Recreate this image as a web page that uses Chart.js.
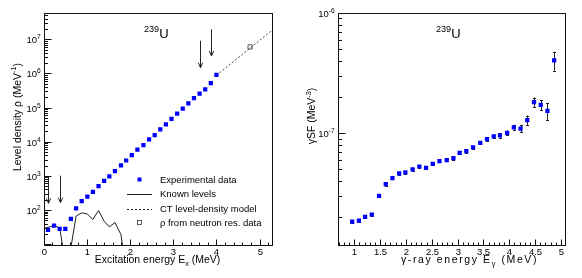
<!DOCTYPE html>
<html lang="en">
<head>
<meta charset="UTF-8" />
<title>239U level density and gamma strength function</title>
<script src="https://cdn.jsdelivr.net/npm/chart.js"></script>
<style>
  html, body { margin: 0; padding: 0; background: #fff; }
  .wrap { position: relative; width: 582px; height: 278px; overflow: hidden; }
  .panel { position: absolute; top: 0; width: 291px; height: 278px; }
  #left { left: 0; }
  #right { left: 291px; }
</style>
</head>
<body>
<div class="wrap">
  <div class="panel" id="left"><canvas id="rhoChart" width="291" height="278"></canvas></div>
  <div class="panel" id="right"><canvas id="gsfChart" width="291" height="278"></canvas></div>
</div>

<script>
// ------------------------------------------
// Data
// ------------------------------------------
// left panel: level density
const rhoE   = [0.10, 0.24, 0.37, 0.50, 0.63, 0.75, 0.88, 1.01, 1.14, 1.27, 1.40, 1.52, 1.65, 1.79, 1.91, 2.04,
                2.17, 2.31, 2.44, 2.57, 2.70, 2.83, 2.96, 3.09, 3.22, 3.35, 3.48, 3.61, 3.74, 3.87, 4.00];
const rhoExp = [26, 35, 28, 28, 55, 112, 182, 245, 340, 500, 710, 965, 1380, 2040, 2820, 4070,
                5900, 7950, 11700, 15500, 22900, 32400, 46800, 66100, 93300, 132000, 190000, 257000, 339000, 525000, 912000];

const knownE   = [0.02, 0.24, 0.37, 0.50, 0.63, 0.75, 0.88, 1.01, 1.14, 1.27, 1.40, 1.52, 1.65, 1.79, 1.91];
const knownRho = [29, 35, 30, 3, 8, 66, 83, 76, 53, 97, 47, 32, 43, 19, 1.5];

const ctE   = [4.00, 5.28];
const ctRho = [8.8e5, 1.8e7];

const neutronE   = [4.78];
const neutronRho = [6.0e6];

// fit-limit arrows (energy, upper end, lower end)
const arrowE    = [0.10, 0.37, 3.61, 3.87];
const arrowFrom = [950, 1010, 9.1e6, 1.96e7];
const arrowTo   = [157, 164, 1.47e6, 3.24e6];

// right panel: gamma strength function
const gsfE   = [0.96, 1.09, 1.21, 1.34, 1.48, 1.61, 1.74, 1.87, 1.99, 2.13, 2.26, 2.39, 2.52, 2.65, 2.79, 2.92,
                3.04, 3.17, 3.30, 3.44, 3.57, 3.70, 3.82, 3.96, 4.09, 4.22, 4.35, 4.48, 4.61, 4.74, 4.87];
const gsfVal = [1.83e-8, 1.87e-8, 2.01e-8, 2.09e-8, 3.00e-8, 3.76e-8, 4.22e-8, 4.61e-8, 4.70e-8, 4.98e-8, 5.27e-8,
                5.14e-8, 5.55e-8, 5.85e-8, 5.96e-8, 6.19e-8, 6.85e-8, 7.08e-8, 7.59e-8, 8.30e-8, 8.91e-8, 9.37e-8,
                9.55e-8, 1.006e-7, 1.114e-7, 1.092e-7, 1.28e-7, 1.81e-7, 1.72e-7, 1.53e-7, 4.03e-7];
const gsfErr = [0.05e-8, 0.05e-8, 0.05e-8, 0.06e-8, 0.08e-8, 0.1e-8, 0.1e-8, 0.1e-8, 0.12e-8, 0.12e-8, 0.13e-8,
                0.13e-8, 0.14e-8, 0.15e-8, 0.15e-8, 0.17e-8, 0.18e-8, 0.2e-8, 0.22e-8, 0.25e-8, 0.3e-8, 0.35e-8,
                0.4e-8, 0.45e-8, 0.6e-8, 0.8e-8, 1.2e-8, 1.65e-8, 1.7e-8, 2.4e-8, 7.2e-8];

// ------------------------------------------
// Text helpers (super/subscripts)
// ------------------------------------------
const FACE = '"Liberation Sans", Arial, Helvetica, sans-serif';
function fontOf(size) { return size + 'px ' + FACE; }

// parts: [[text, mode]] with mode '', 'sup' or 'sub'
function drawRich(ctx, parts, x, y, size, align, spacing) {
  ctx.letterSpacing = (spacing || 0) + 'px';
  const sizes = parts.map(p => (p[1] ? size * 0.7 : size));
  const widths = parts.map((p, i) => { ctx.font = fontOf(sizes[i]); return ctx.measureText(p[0]).width; });
  const total = widths.reduce((a, b) => a + b, 0);
  let cx = align === 'center' ? x - total / 2 : align === 'right' ? x - total : x;
  ctx.textAlign = 'left';
  ctx.textBaseline = 'alphabetic';
  parts.forEach((p, i) => {
    ctx.font = fontOf(sizes[i]);
    const dy = p[1] === 'sup' ? -size * 0.42 : p[1] === 'sub' ? size * 0.28 : 0;
    ctx.fillText(p[0], cx, y + dy);
    cx += widths[i];
  });
  ctx.letterSpacing = '0px';
}

// ROOT-like frame, inward ticks, labels and titles
function rootAxes(cfg) {
  return {
    id: 'rootAxes',
    afterDatasetsDraw(chart) {
      const { ctx, chartArea: a, scales: { x, y } } = chart;
      ctx.save();
      ctx.strokeStyle = '#111';
      ctx.fillStyle = '#111';
      ctx.lineWidth = 1;
      const L = Math.round(a.left) + 0.5, R = Math.round(a.right) + 0.5;
      const T = Math.round(a.top) + 0.5, B = Math.round(a.bottom) + 0.5;
      ctx.strokeRect(L, T, R - L, B - T);

      // x ticks
      ctx.beginPath();
      const n0 = Math.ceil(x.min / cfg.xMinor - 1e-6), n1 = Math.floor(x.max / cfg.xMinor + 1e-6);
      const xLabels = [];
      for (let n = n0; n <= n1; n++) {
        const v = n * cfg.xMinor;
        const r = v / cfg.xMajor;
        const major = Math.abs(r - Math.round(r)) < 1e-6;
        const px = Math.round(x.getPixelForValue(v)) + 0.5;
        ctx.moveTo(px, B);
        ctx.lineTo(px, B - (major ? 6 : 3));
        if (major) xLabels.push([v, px]);
      }
      // y ticks (log)
      const yLabels = [];
      const d0 = Math.floor(Math.log10(y.min)), d1 = Math.ceil(Math.log10(y.max));
      for (let d = d0; d <= d1; d++) {
        for (let m = 1; m <= 9; m++) {
          const v = m * Math.pow(10, d);
          if (v < y.min * 0.9999 || v > y.max * 1.0001) continue;
          const py = Math.round(y.getPixelForValue(v)) + 0.5;
          ctx.moveTo(L, py);
          ctx.lineTo(L + (m === 1 ? 7 : 3.5), py);
          if (m === 1 && d >= cfg.yLabelFrom) yLabels.push([d, py]);
        }
      }
      ctx.stroke();

      ctx.fillStyle = '#000';
      xLabels.forEach(([v, px]) => {
        drawRich(ctx, [[cfg.xFmt(v), '']], px, a.bottom + 10, cfg.tickSize, 'center');
      });
      yLabels.forEach(([d, py]) => {
        drawRich(ctx, [['10', ''], [String(d), 'sup']], a.left - 3, py + 3.3, cfg.tickSize, 'right');
      });

      // axis titles
      drawRich(ctx, cfg.xTitle, cfg.xTitleX, cfg.xTitleY, cfg.titleSize, 'center', cfg.xTitleSpacing);
      ctx.save();
      ctx.translate(cfg.yTitleX, cfg.yTitleY);
      ctx.rotate(-Math.PI / 2);
      drawRich(ctx, cfg.yTitle, 0, 0, cfg.titleSize, 'center');
      ctx.restore();

      // nucleus label
      drawRich(ctx, [['239', 'sup'], ['U', '']], cfg.nucX, cfg.nucY, 13, 'left');
      ctx.restore();
    }
  };
}

function xy(xs, ys) { return xs.map((v, i) => ({ x: v, y: ys[i] })); }

// ------------------------------------------
// Left: level density
// ------------------------------------------
const arrowPlugin = {
  id: 'arrows',
  afterDatasetsDraw(chart) {
    const { ctx, scales: { x, y } } = chart;
    ctx.save();
    ctx.strokeStyle = '#222';
    ctx.lineWidth = 1;
    arrowE.forEach((e, i) => {
      const px = Math.round(x.getPixelForValue(e)) + 0.5;
      const y0 = y.getPixelForValue(arrowFrom[i]);
      const y1 = y.getPixelForValue(arrowTo[i]);
      ctx.beginPath();
      ctx.moveTo(px, y0);
      ctx.lineTo(px, y1);
      ctx.moveTo(px - 2.2, y1 - 5);
      ctx.lineTo(px, y1);
      ctx.lineTo(px + 2.2, y1 - 5);
      ctx.stroke();
    });
    ctx.restore();
  }
};

const legendPlugin = {
  id: 'insetLegend',
  afterDraw(chart) {
    const { ctx } = chart;
    const rows = [
      { text: 'Experimental data', kind: 'exp', y: 179.5 },
      { text: 'Known levels', kind: 'solid', y: 193.5 },
      { text: 'CT level-density model', kind: 'dash', y: 208.5 },
      { text: '\u03c1 from neutron res. data', kind: 'open', y: 222.5 }
    ];
    ctx.save();
    rows.forEach(r => {
      ctx.beginPath();
      if (r.kind === 'exp') {
        ctx.fillStyle = '#0000ff';
        ctx.fillRect(137.5, r.y - 2, 4, 4);
      } else if (r.kind === 'open') {
        ctx.strokeStyle = '#333';
        ctx.lineWidth = 0.8;
        ctx.strokeRect(137.5, r.y - 2, 4, 4);
      } else {
        ctx.strokeStyle = '#222';
        ctx.lineWidth = 1;
        ctx.setLineDash(r.kind === 'dash' ? [2, 2] : []);
        ctx.moveTo(127, Math.round(r.y) + 0.5);
        ctx.lineTo(152, Math.round(r.y) + 0.5);
        ctx.stroke();
        ctx.setLineDash([]);
      }
      ctx.fillStyle = '#000';
      drawRich(ctx, [[r.text, '']], 160, r.y + 3.4, 9.5, 'left');
    });
    ctx.restore();
  }
};

new Chart(document.getElementById('rhoChart'), {
  type: 'scatter',
  data: {
    datasets: [
      {
        label: 'Known levels',
        data: xy(knownE, knownRho),
        showLine: true,
        borderColor: '#222',
        borderWidth: 1,
        pointRadius: 0,
        order: 3
      },
      {
        label: 'CT level-density model',
        data: xy(ctE, ctRho),
        showLine: true,
        borderColor: '#444',
        borderWidth: 1,
        borderDash: [2, 2],
        pointRadius: 0,
        order: 2
      },
      {
        label: 'rho from neutron res. data',
        data: xy(neutronE, neutronRho),
        pointStyle: 'rect',
        pointRadius: 3,
        backgroundColor: 'rgba(0,0,0,0)',
        borderColor: '#333',
        borderWidth: 0.8,
        order: 1
      },
      {
        label: 'Experimental data',
        data: xy(rhoE, rhoExp),
        pointStyle: 'rect',
        pointRadius: 3,
        backgroundColor: '#0000ff',
        borderWidth: 0,
        order: 0
      }
    ]
  },
  options: {
    responsive: false,
    animation: false,
    devicePixelRatio: 1,
    layout: { padding: { left: 43.7, right: 19.3, top: 13, bottom: 33 } },
    scales: {
      x: { type: 'linear', min: 0, max: 5.28, display: false },
      y: { type: 'logarithmic', min: 9.44, max: 5.9e7, display: false }
    },
    plugins: { legend: { display: false }, tooltip: { enabled: false } }
  },
  plugins: [
    rootAxes({
      xMajor: 1, xMinor: 0.2, xFmt: v => String(Math.round(v)),
      tickSize: 9.5, titleSize: 10.5, yLabelFrom: 2,
      xTitle: [['Excitation energy E', ''], ['x', 'sub'], [' (MeV)', '']],
      xTitleX: 157.5, xTitleY: 263,
      yTitle: [['Level density \u03c1 (MeV', ''], ['-1', 'sup'], [')', '']],
      yTitleX: 20.5, yTitleY: 117,
      nucX: 144, nucY: 37.5
    }),
    arrowPlugin,
    legendPlugin
  ]
});

// ------------------------------------------
// Right: gamma strength function
// ------------------------------------------
const errorBarPlugin = {
  id: 'errorBars',
  beforeDatasetsDraw(chart) {
    const { ctx, scales: { x, y } } = chart;
    ctx.save();
    ctx.strokeStyle = '#222';
    ctx.lineWidth = 1;
    ctx.beginPath();
    gsfE.forEach((e, i) => {
      const px = Math.round(x.getPixelForValue(e)) + 0.5;
      const yHi = y.getPixelForValue(gsfVal[i] + gsfErr[i]);
      const yLo = y.getPixelForValue(gsfVal[i] - gsfErr[i]);
      ctx.moveTo(px, yHi);
      ctx.lineTo(px, yLo);
      ctx.moveTo(px - 1.5, Math.round(yHi) + 0.5);
      ctx.lineTo(px + 1.5, Math.round(yHi) + 0.5);
      ctx.moveTo(px - 1.5, Math.round(yLo) + 0.5);
      ctx.lineTo(px + 1.5, Math.round(yLo) + 0.5);
    });
    ctx.stroke();
    ctx.restore();
  }
};

new Chart(document.getElementById('gsfChart'), {
  type: 'scatter',
  data: {
    datasets: [
      {
        label: 'gamma strength function',
        data: xy(gsfE, gsfVal),
        pointStyle: 'rect',
        pointRadius: 3,
        backgroundColor: '#0000ff',
        borderWidth: 0
      }
    ]
  },
  options: {
    responsive: false,
    animation: false,
    devicePixelRatio: 1,
    layout: { padding: { left: 46.7, right: 17, top: 13, bottom: 33 } },
    scales: {
      x: { type: 'linear', min: 0.68, max: 5.08, display: false },
      y: { type: 'logarithmic', min: 1.17e-8, max: 1e-6, display: false }
    },
    plugins: { legend: { display: false }, tooltip: { enabled: false } }
  },
  plugins: [
    errorBarPlugin,
    rootAxes({
      xMajor: 0.5, xMinor: 0.1, xFmt: v => (Math.abs(v - Math.round(v)) < 1e-6 ? String(Math.round(v)) : v.toFixed(1)),
      tickSize: 9.5, titleSize: 10.5, yLabelFrom: -9,
      xTitle: [['\u03b3-ray energy E', ''], ['\u03b3', 'sub'], [' (MeV)', '']],
      xTitleX: 178.5, xTitleY: 263, xTitleSpacing: 1.6,
      yTitle: [['\u03b3SF (MeV', ''], ['-3', 'sup'], [')', '']],
      yTitleX: 24, yTitleY: 116,
      nucX: 145, nucY: 37.5
    })
  ]
});
</script>
</body>
</html>
